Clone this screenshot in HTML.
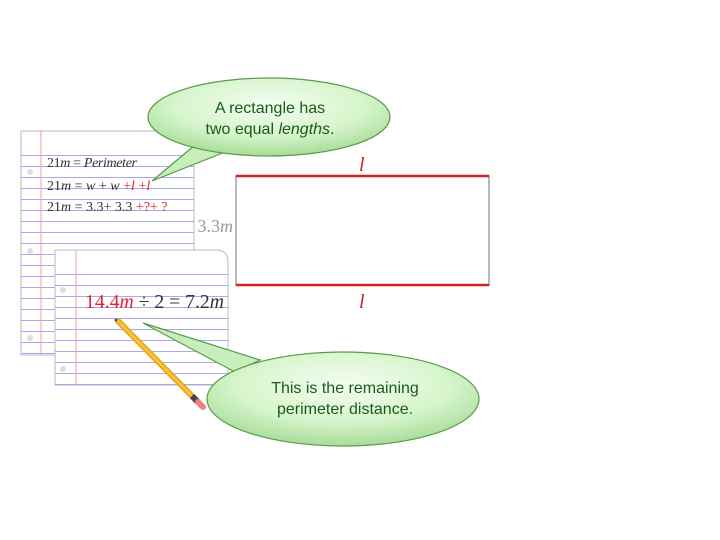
<!DOCTYPE html>
<html><head><style>
html,body{margin:0;padding:0;background:#fff;width:720px;height:540px;overflow:hidden}
svg{display:block}
</style></head><body>
<svg width="720" height="540" viewBox="0 0 720 540" xmlns="http://www.w3.org/2000/svg">
<defs>
<radialGradient id="g" cx="50%" cy="35%" r="65%">
<stop offset="0" stop-color="#f3fdf0"/><stop offset="0.6" stop-color="#d6f5cc"/><stop offset="1" stop-color="#a8dc98"/>
</radialGradient>
<pattern id="lines" x="0" y="145" width="10" height="11" patternUnits="userSpaceOnUse">
<rect x="0" y="10" width="10" height="1.2" fill="#a8a8ec"/>
</pattern>
<pattern id="lines2" x="0" y="264" width="10" height="11" patternUnits="userSpaceOnUse">
<rect x="0" y="10" width="10" height="1.2" fill="#a8a8ec"/>
</pattern>
</defs>
<!-- back paper -->
<rect x="21" y="131" width="173" height="224" fill="#fff" stroke="#bbb" stroke-width="1"/>
<rect x="21" y="150" width="173" height="205" fill="url(#lines)"/>
<line x1="41" y1="131" x2="41" y2="355" stroke="#f0a0a0" stroke-width="1"/>
<circle cx="30" cy="172" r="3" fill="#ddd"/><circle cx="30" cy="251" r="3" fill="#ddd"/><circle cx="30" cy="338" r="3" fill="#ddd"/>
<g font-family="Liberation Serif,serif" font-size="14" fill="#333">
<text x="47" y="167" textLength="90">21<tspan font-style="italic">m</tspan> = <tspan font-style="italic">Perimeter</tspan></text>
<text x="47" y="190">21<tspan font-style="italic">m</tspan> = <tspan font-style="italic">w</tspan> + <tspan font-style="italic">w</tspan><tspan fill="#e0202a"> +<tspan font-style="italic">l</tspan> +<tspan font-style="italic">l</tspan></tspan></text>
<text x="47" y="211">21<tspan font-style="italic">m</tspan> = 3.3+ 3.3<tspan fill="#e0202a"> +?+ ?</tspan></text>
</g>
<!-- front paper -->
<path d="M55 250 H216 Q228 250 228 262 V385 H55 Z" fill="#fff" stroke="#bbb"/>
<rect x="55" y="264" width="173" height="122" fill="url(#lines2)"/>
<line x1="76" y1="251" x2="76" y2="385" stroke="#f0a0a0"/>
<circle cx="63" cy="290" r="3" fill="#ddd"/><circle cx="63" cy="369" r="3" fill="#ddd"/>
<text x="85" y="308" font-family="Liberation Serif,serif" font-size="20" fill="#333" textLength="139" lengthAdjust="spacingAndGlyphs"><tspan fill="#e0202a">14.4<tspan font-style="italic">m</tspan></tspan> ÷ 2 = 7.2<tspan font-style="italic">m</tspan></text>
<!-- pencil -->
<line x1="117" y1="320" x2="192" y2="396" stroke="#e8a820" stroke-width="6" stroke-linecap="butt"/>
<line x1="117" y1="320" x2="192" y2="396" stroke="#f7c440" stroke-width="2.5"/>
<line x1="192" y1="396" x2="198" y2="402" stroke="#444" stroke-width="6"/>
<line x1="198" y1="402" x2="203" y2="407" stroke="#f08080" stroke-width="6" stroke-linecap="round"/>
<circle cx="116" cy="320" r="1.5" fill="#555"/>
<!-- rectangle -->
<text x="233" y="232" text-anchor="end" font-family="Liberation Serif,serif" font-size="18" fill="#999">3.3<tspan font-style="italic">m</tspan></text>
<rect x="236" y="176" width="253" height="109" fill="#fff" stroke="#9aa0b0" stroke-width="1.5"/>
<line x1="236" y1="176" x2="489" y2="176" stroke="#d42020" stroke-width="2.5"/>
<line x1="236" y1="285" x2="489" y2="285" stroke="#d42020" stroke-width="2.5"/>
<text x="359" y="171" font-family="Liberation Serif,serif" font-style="italic" font-size="20" fill="#d42020">l</text>
<text x="359" y="308" font-family="Liberation Serif,serif" font-style="italic" font-size="20" fill="#d42020">l</text>
<!-- bubble 1 -->
<g stroke="#5a9a4a" stroke-width="1.2" fill="#c8eebc">
<path d="M195 145 L152 181 L225 152 Z"/>
</g>
<ellipse cx="269" cy="117" rx="121" ry="39" fill="url(#g)" stroke="#5a9a4a" stroke-width="1.2"/>
<g font-family="Liberation Sans,sans-serif" font-size="16" fill="#1a5a1a" text-anchor="middle">
<text x="270" y="113">A rectangle has</text>
<text x="270" y="134">two equal <tspan font-style="italic">lengths</tspan>.</text>
</g>
<!-- bubble 2 -->
<g stroke="#5a9a4a" stroke-width="1.2" fill="#c8eebc">
<path d="M260 360 L143 323 L235 372 Z"/>
</g>
<ellipse cx="343" cy="399" rx="136" ry="47" fill="url(#g)" stroke="#5a9a4a" stroke-width="1.2"/>
<g font-family="Liberation Sans,sans-serif" font-size="16" fill="#1a5a1a" text-anchor="middle">
<text x="345" y="393">This is the remaining</text>
<text x="345" y="414">perimeter distance.</text>
</g>
</svg>
</body></html>
